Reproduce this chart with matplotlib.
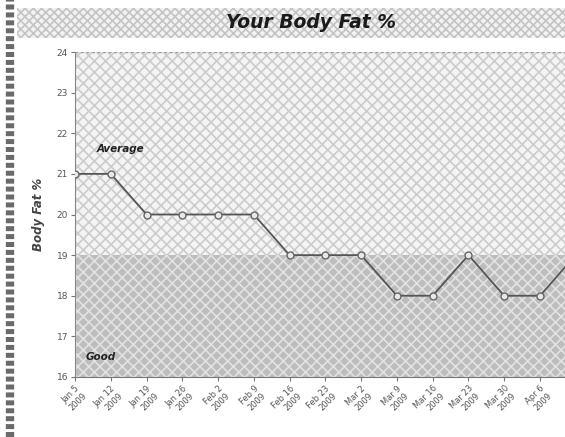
import matplotlib.pyplot as plt
from matplotlib.patches import Rectangle
from matplotlib.lines import Line2D

# weigh-in dates and body fat readings
dates = ["Jan 5\n2009", "Jan 12\n2009", "Jan 19\n2009", "Jan 26\n2009",
         "Feb 2\n2009", "Feb 9\n2009", "Feb 16\n2009", "Feb 23\n2009",
         "Mar 2\n2009", "Mar 9\n2009", "Mar 16\n2009", "Mar 23\n2009",
         "Mar 30\n2009", "Apr 6\n2009", "Apr 13\n2009"]
body_fat = [21, 21, 20, 20, 20, 20, 19, 19, 19, 18, 18, 19, 18, 18, 19]

y_ticks = [16, 17, 18, 19, 20, 21, 22, 23, 24]
zones = [("Good", 16, 19), ("Average", 19, 24)]

plt.rcParams['hatch.linewidth'] = 1.2

fig = plt.figure(figsize=(5.65, 4.37), dpi=100)
fig.patch.set_facecolor("white")

# title band and left border strip
fig.add_artist(Rectangle((0.03, 1 - 38 / 437), 0.97, 30 / 437, transform=fig.transFigure,
                         facecolor="#f2f2f2", edgecolor="#c4c4c4", hatch="xxxx", lw=0))
fig.add_artist(Line2D([0.018, 0.018], [0, 1], transform=fig.transFigure,
                      color="#6a6a6a", lw=6, ls=(0, (0.6, 0.35))))
fig.text(0.55, 1 - 22 / 437, "Your Body Fat %", ha="center", va="center",
         fontsize=13.5, fontweight="bold", fontstyle="italic", color="#1a1a1a")

ax = fig.add_axes([75 / 565, 1 - 377 / 437, 1 - 75 / 565, 325 / 437])
x = list(range(len(body_fat)))

# zone backgrounds
ax.axhspan(zones[1][1], zones[1][2], facecolor="#f4f4f4", edgecolor="#cccccc",
           hatch="xxx", lw=0, zorder=0)
ax.axhspan(zones[0][1], zones[0][2], facecolor="#bdbdbd", edgecolor="#e2e2e2",
           hatch="xxx", lw=0, zorder=0)
ax.text(0.6, 21.5, zones[1][0], fontsize=7.5, fontweight="bold", fontstyle="italic",
        color="#222222", va="bottom")
ax.text(0.3, 16.5, zones[0][0], fontsize=7.5, fontweight="bold", fontstyle="italic",
        color="#222222", va="center")

ax.plot(x, body_fat, color="#555555", lw=1.3, marker="o", ms=5,
        mfc="#e8e8e8", mec="#666666", mew=1, zorder=3)

ax.set_xlim(0, 13.7)
ax.set_ylim(16, 24)
ax.set_yticks(y_ticks)
ax.set_yticklabels([str(v) for v in y_ticks], fontsize=6.5, color="#555555")
ax.set_xticks(x[:14])
ax.set_xticklabels(dates[:14], rotation=45, ha="right", fontsize=6, color="#555555",
                   rotation_mode="anchor")
ax.tick_params(axis="both", length=3, color="#777777", pad=2)
ax.set_ylabel("Body Fat %", fontsize=8.5, fontweight="bold", fontstyle="italic",
              color="#444444", labelpad=8)

for side in ["top", "right"]:
    ax.spines[side].set_visible(False)
ax.spines["left"].set_color("#888888")
ax.spines["left"].set_linestyle((0, (2, 1)))
ax.spines["bottom"].set_color("#777777")
ax.spines["bottom"].set_linestyle((0, (2, 1)))
ax.axhline(24, color="#999999", lw=1, ls=(0, (2, 2)), zorder=1)

fig.savefig("out.png", dpi=100)
